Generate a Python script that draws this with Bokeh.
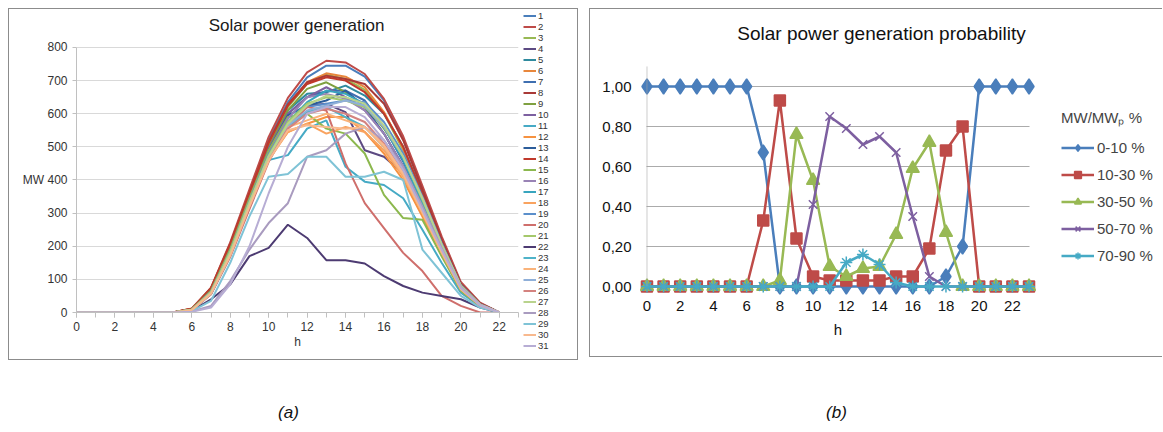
from bokeh.plotting import figure
from bokeh.models import (Legend, LegendItem, FixedTicker, Range1d, Label, Spacer,
                          BoxAnnotation)
from bokeh.layouts import row, column
from bokeh.embed import file_html
from bokeh.resources import INLINE

FONT = "Liberation Sans"

# ---------------- (a) Solar power generation, MW per hour for 31 days ----------------
hours_a = list(range(23))  # 0 .. 22
Z = [0, 0, 0, 0, 0, 0]      # hours 0-5
day_01 = Z + [10, 70, 205, 365, 520, 635, 710, 745, 745, 712, 640, 525, 375, 225, 88, 28, 0]
day_02 = Z + [12, 75, 212, 372, 530, 648, 725, 760, 755, 720, 645, 532, 382, 230, 92, 30, 0]
day_03 = Z + [10, 72, 200, 355, 505, 620, 690, 718, 705, 672, 600, 490, 345, 205, 80, 25, 0]
day_04 = Z + [8, 60, 180, 330, 470, 570, 625, 630, 605, 490, 470, 420, 300, 180, 70, 20, 0]
day_05 = Z + [9, 65, 190, 345, 495, 610, 660, 665, 685, 655, 600, 500, 360, 215, 85, 26, 0]
day_06 = Z + [11, 73, 205, 360, 510, 625, 695, 722, 712, 680, 605, 495, 350, 210, 82, 26, 0]
day_07 = Z + [9, 66, 192, 345, 492, 600, 650, 668, 670, 640, 560, 455, 330, 200, 80, 24, 0]
day_08 = Z + [11, 74, 208, 362, 515, 628, 695, 715, 705, 690, 630, 520, 370, 220, 85, 27, 0]
day_09 = Z + [10, 70, 198, 350, 500, 610, 675, 695, 665, 625, 555, 470, 335, 200, 78, 24, 0]
day_10 = Z + [9, 66, 192, 345, 495, 600, 650, 680, 650, 610, 540, 440, 310, 185, 72, 22, 0]
day_11 = Z + [7, 55, 170, 320, 460, 475, 555, 580, 440, 395, 385, 345, 250, 150, 60, 18, 0]
day_12 = Z + [8, 62, 180, 330, 465, 545, 570, 590, 590, 545, 480, 400, 290, 175, 68, 20, 0]
day_13 = Z + [9, 64, 188, 340, 490, 595, 625, 640, 670, 620, 540, 440, 315, 190, 74, 22, 0]
day_14 = Z + [11, 72, 205, 358, 512, 625, 690, 710, 700, 665, 600, 500, 355, 212, 84, 26, 0]
day_15 = Z + [9, 66, 192, 345, 490, 590, 600, 555, 540, 480, 355, 285, 280, 170, 66, 20, 0]
day_16 = Z + [8, 63, 186, 338, 480, 585, 650, 660, 645, 610, 540, 440, 315, 190, 74, 22, 0]
day_17 = Z + [8, 62, 185, 335, 478, 575, 635, 670, 660, 630, 560, 460, 330, 198, 78, 23, 0]
day_18 = Z + [8, 60, 180, 325, 460, 545, 570, 540, 560, 545, 490, 410, 300, 180, 70, 21, 0]
day_19 = Z + [8, 62, 183, 333, 475, 575, 620, 630, 640, 635, 575, 480, 350, 210, 82, 25, 0]
day_20 = Z + [7, 55, 168, 312, 455, 560, 620, 610, 450, 330, 255, 180, 125, 50, 20, 0, 0]
day_21 = Z + [8, 62, 185, 335, 475, 575, 630, 650, 640, 620, 560, 470, 340, 205, 80, 24, 0]
day_22 = Z + [5, 40, 85, 170, 195, 265, 225, 158, 158, 148, 110, 80, 60, 50, 40, 15, 0]
day_23 = Z + [7, 58, 175, 325, 465, 560, 605, 620, 590, 560, 500, 420, 305, 185, 72, 22, 0]
day_24 = Z + [8, 60, 178, 328, 470, 560, 580, 600, 580, 560, 500, 415, 300, 182, 70, 21, 0]
day_25 = Z + [7, 58, 176, 328, 470, 565, 610, 625, 640, 625, 560, 470, 345, 205, 80, 24, 0]
day_26 = Z + [7, 58, 175, 322, 462, 555, 600, 615, 600, 575, 510, 425, 310, 188, 74, 22, 0]
day_27 = Z + [8, 60, 180, 330, 470, 570, 625, 655, 650, 630, 565, 470, 345, 205, 80, 24, 0]
day_28 = Z + [3, 20, 95, 190, 270, 330, 470, 490, 540, 560, 520, 440, 320, 195, 76, 23, 0]
day_29 = Z + [4, 35, 150, 290, 410, 418, 470, 470, 410, 410, 425, 400, 190, 120, 50, 15, 0]
day_30 = Z + [7, 57, 172, 320, 458, 550, 565, 560, 555, 560, 505, 420, 305, 185, 72, 22, 0]
day_31 = Z + [2, 15, 85, 200, 360, 500, 600, 620, 620, 590, 520, 430, 310, 190, 74, 22, 0]
days = [day_01, day_02, day_03, day_04, day_05, day_06, day_07, day_08, day_09, day_10,
        day_11, day_12, day_13, day_14, day_15, day_16, day_17, day_18, day_19, day_20,
        day_21, day_22, day_23, day_24, day_25, day_26, day_27, day_28, day_29, day_30, day_31]
day_labels = [str(i) for i in range(1, 32)]
xticks_a = list(range(0, 23, 2))
yticks_a = list(range(0, 801, 100))

day_colors = [
    "#4A7EBB", "#BE4B48", "#98B954", "#5C4A82", "#2F8A9E", "#E8873C",
    "#3F6FB0", "#A93A37", "#7FA040", "#7D60A0", "#46AAC5", "#F69240",
    "#2C5D9A", "#C0392B", "#8CB84E", "#9983B5", "#38A5BE", "#F9A35F",
    "#5B8FCB", "#CF6F6C", "#A5C86B", "#4D3B72", "#4FB3C9", "#FAB37A",
    "#8FAFD8", "#D4827F", "#B9D38D", "#A99BBF", "#7FC3D6", "#F8B98E", "#B7ADD4",
]

# ---------------- (b) probability per class ----------------
hours_b = list(range(24))  # 0 .. 23
class_labels = ["0-10 %", "10-30 %", "30-50 %", "50-70 %", "70-90 %"]
p_0_10 = [1, 1, 1, 1, 1, 1, 1, 0.67, 0, 0, 0, 0, 0, 0, 0, 0, 0, 0, 0.05, 0.20, 1, 1, 1, 1]
p_10_30 = [0, 0, 0, 0, 0, 0, 0, 0.33, 0.93, 0.24, 0.05, 0.03, 0.03, 0.03, 0.03, 0.05, 0.05, 0.19, 0.68, 0.80, 0, 0, 0, 0]
p_30_50 = [0, 0, 0, 0, 0, 0, 0, 0, 0.03, 0.76, 0.53, 0.10, 0.05, 0.09, 0.10, 0.26, 0.59, 0.72, 0.27, 0, 0, 0, 0, 0]
p_50_70 = [0, 0, 0, 0, 0, 0, 0, 0, 0, 0, 0.41, 0.85, 0.79, 0.71, 0.75, 0.67, 0.35, 0.05, 0, 0, 0, 0, 0, 0]
p_70_90 = [0, 0, 0, 0, 0, 0, 0, 0, 0, 0, 0, 0, 0.12, 0.16, 0.11, 0.02, 0, 0, 0, 0, 0, 0, 0, 0]
class_values = [p_0_10, p_10_30, p_30_50, p_50_70, p_70_90]
class_colors = ["#4A7EBB", "#BE4B48", "#98B954", "#7D5FA0", "#46AAC5"]
class_markers = ["diamond", "square", "triangle", "x", "asterisk"]
class_sizes = [15, 11, 13, 12, 12]
xticks_b = list(range(0, 23, 2))
yticks_b = [0, 0.2, 0.4, 0.6, 0.8, 1.0]
ytick_labels_b = ["0,00", "0,20", "0,40", "0,60", "0,80", "1,00"]

BOXC = "#8c8c8c"


def hline(w):
    return Spacer(width=w, height=1, styles={"background-color": BOXC})


def vline(h):
    return Spacer(width=1, height=h, styles={"background-color": BOXC})


def blank(w, h, xr=(0, 1), yr=(0, 1)):
    f = figure(width=w, height=h, x_range=Range1d(*xr), y_range=Range1d(*yr),
               output_backend="svg", toolbar_location=None, min_border=0,
               x_axis_type=None, y_axis_type=None)
    f.outline_line_color = None
    f.grid.visible = False
    return f


# ---------------- figure (a) ----------------
H1 = 350
p1 = figure(width=514, height=H1, x_range=Range1d(0, 23), y_range=Range1d(0, 914.7),
            output_backend="svg", toolbar_location=None,
            min_border_left=67, min_border_right=5, min_border_top=0, min_border_bottom=47)
p1.outline_line_color = None
p1.add_layout(Label(x=11.45, y=866, text="Solar power generation", text_align="center",
                    text_baseline="middle", text_font=FONT, text_font_size="17px",
                    text_color="#1a1a1a"))

for vals, col in zip(days, day_colors):
    p1.line(hours_a, vals, line_color=col, line_width=2)

p1.xaxis.ticker = FixedTicker(ticks=xticks_a, minor_ticks=list(range(24)))
p1.xaxis.bounds = (0, 23)
p1.xaxis.axis_label = "h"
p1.xaxis.major_tick_out = 5
p1.xaxis.minor_tick_out = 5
p1.xaxis.major_tick_in = 0
p1.xaxis.minor_tick_in = 0
p1.yaxis.ticker = FixedTicker(ticks=yticks_a)
p1.yaxis.bounds = (0, 800)
p1.yaxis.major_label_overrides = {400: "MW 400"}
p1.yaxis.major_tick_out = 4
p1.yaxis.major_tick_in = 0
for ax in (p1.xaxis, p1.yaxis):
    ax.axis_line_color = "#c0c0c0"
    ax.major_tick_line_color = "#c0c0c0"
    ax.major_label_text_font = FONT
    ax.major_label_text_font_size = "12px"
    ax.major_label_text_color = "#333333"
    ax.axis_label_text_font = FONT
    ax.axis_label_text_font_size = "12px"
    ax.axis_label_text_font_style = "normal"
    ax.axis_label_text_color = "#333333"
p1.xaxis.minor_tick_line_color = "#c0c0c0"
p1.yaxis.minor_tick_line_color = None
p1.xaxis.major_label_standoff = 4
p1.xaxis.axis_label_standoff = 1
p1.yaxis.major_label_standoff = 5
p1.xgrid.visible = False
p1.ygrid.grid_line_color = "#d9d9d9"

# legend panel of (a); its renderers repeat the series but lie outside its ranges
LG1_TOP = 1
lf1 = blank(54, H1 - LG1_TOP, (100, 101), (0, 1))
items1 = []
for lab, vals, col in zip(day_labels, days, day_colors):
    r = lf1.line(hours_a, vals, line_color=col, line_width=2)
    items1.append(LegendItem(label=lab, renderers=[r]))
lf1.add_layout(Legend(items=items1, location="top_left", glyph_width=13, glyph_height=11,
                      label_height=11, spacing=0, padding=0, margin=0, label_standoff=2,
                      label_text_font=FONT, label_text_font_size="9.5px",
                      label_text_line_height=1.0, label_text_color="#333333",
                      border_line_color=None, background_fill_alpha=0))
leg_col1 = column(Spacer(width=54, height=LG1_TOP), lf1)

# ---------------- figure (b) ----------------
T2, H2 = 48, 299
t2 = blank(572, T2, (0, 572), (0, T2))
t2.add_layout(Label(x=291, y=24, text="Solar power generation probability",
                    text_align="center", text_baseline="middle", text_font=FONT,
                    text_font_size="19px", text_color="#111111"))

p2 = figure(width=471, height=H2, x_range=Range1d(-0.45, 23.45), y_range=Range1d(-0.05, 1.145),
            output_backend="svg", toolbar_location=None,
            min_border_left=49, min_border_right=25, min_border_top=0, min_border_bottom=60)
p2.outline_line_color = None
# vertical value axis line drawn at h = 0, from 0 to 1.1
p2.add_layout(BoxAnnotation(left=0, right=0, bottom=0, top=1.1, fill_alpha=0,
                            line_color="#a6a6a6", line_width=1))

for vals, col, mk, sz in zip(class_values, class_colors, class_markers, class_sizes):
    p2.line(hours_b, vals, line_color=col, line_width=2.5)
    p2.scatter(hours_b, vals, marker=mk, size=sz, fill_color=col,
               line_color=col, line_width=1.5)

p2.xaxis.ticker = FixedTicker(ticks=xticks_b)
p2.yaxis.ticker = FixedTicker(ticks=yticks_b)
p2.yaxis.major_label_overrides = dict(zip(yticks_b, ytick_labels_b))
p2.xaxis.axis_label = "h"
for ax in (p2.xaxis, p2.yaxis):
    ax.axis_line_color = None
    ax.major_tick_line_color = None
    ax.minor_tick_line_color = None
    ax.major_label_text_font = FONT
    ax.major_label_text_font_size = "15px"
    ax.major_label_text_color = "#111111"
    ax.axis_label_text_font = FONT
    ax.axis_label_text_font_size = "15px"
    ax.axis_label_text_font_style = "normal"
    ax.axis_label_text_color = "#111111"
p2.xaxis.major_label_standoff = -2
p2.xaxis.axis_label_standoff = 7
p2.yaxis.major_label_standoff = 2
p2.xgrid.visible = False
p2.ygrid.grid_line_color = "#ababab"
p2.ygrid.cross_bounds = (0, 23)

LG2_TOP = 50
lf2 = blank(101, H2 - LG2_TOP, (100, 101), (0, 1))
items2 = []
for lab, vals, col, mk, sz in zip(class_labels, class_values, class_colors,
                                  class_markers, class_sizes):
    rl = lf2.line(hours_b, vals, line_color=col, line_width=2.5)
    rs = lf2.scatter(hours_b, vals, marker=mk, size=sz, fill_color=col,
                     line_color=col, line_width=1.5)
    items2.append(LegendItem(label=lab, renderers=[rl, rs]))
lf2.add_layout(Legend(items=items2, location="top_left", glyph_width=33, glyph_height=17,
                      label_height=17, spacing=10, padding=0, margin=0, label_standoff=3,
                      label_text_font=FONT, label_text_font_size="15px",
                      title="MW/MWₚ %", title_text_font=FONT, title_text_font_size="15px",
                      title_text_font_style="normal", title_standoff=12,
                      border_line_color=None, background_fill_alpha=0))

# ---------------- captions ----------------
cap = blank(1162, 64, (0, 1162), (0, 64))
for cx, txt in ((288, "(a)"), (836, "(b)")):
    cap.add_layout(Label(x=cx, y=12, text=txt, text_align="center", text_baseline="middle",
                         text_font=FONT, text_font_size="17px", text_font_style="italic",
                         text_color="#111111"))

box1 = column(hline(570), row(vline(H1), p1, leg_col1, vline(H1)), hline(570))
leg_col2 = column(Spacer(width=101, height=LG2_TOP), lf2)
box2 = column(hline(573), row(vline(T2 + H2), column(t2, row(p2, leg_col2))), hline(573))
top = row(Spacer(width=8, height=H1 + 2), box1, Spacer(width=11, height=H1 + 2), box2)
layout = column(Spacer(width=1162, height=8), top, cap)
open("out.html", "w").write(file_html(layout, INLINE))
